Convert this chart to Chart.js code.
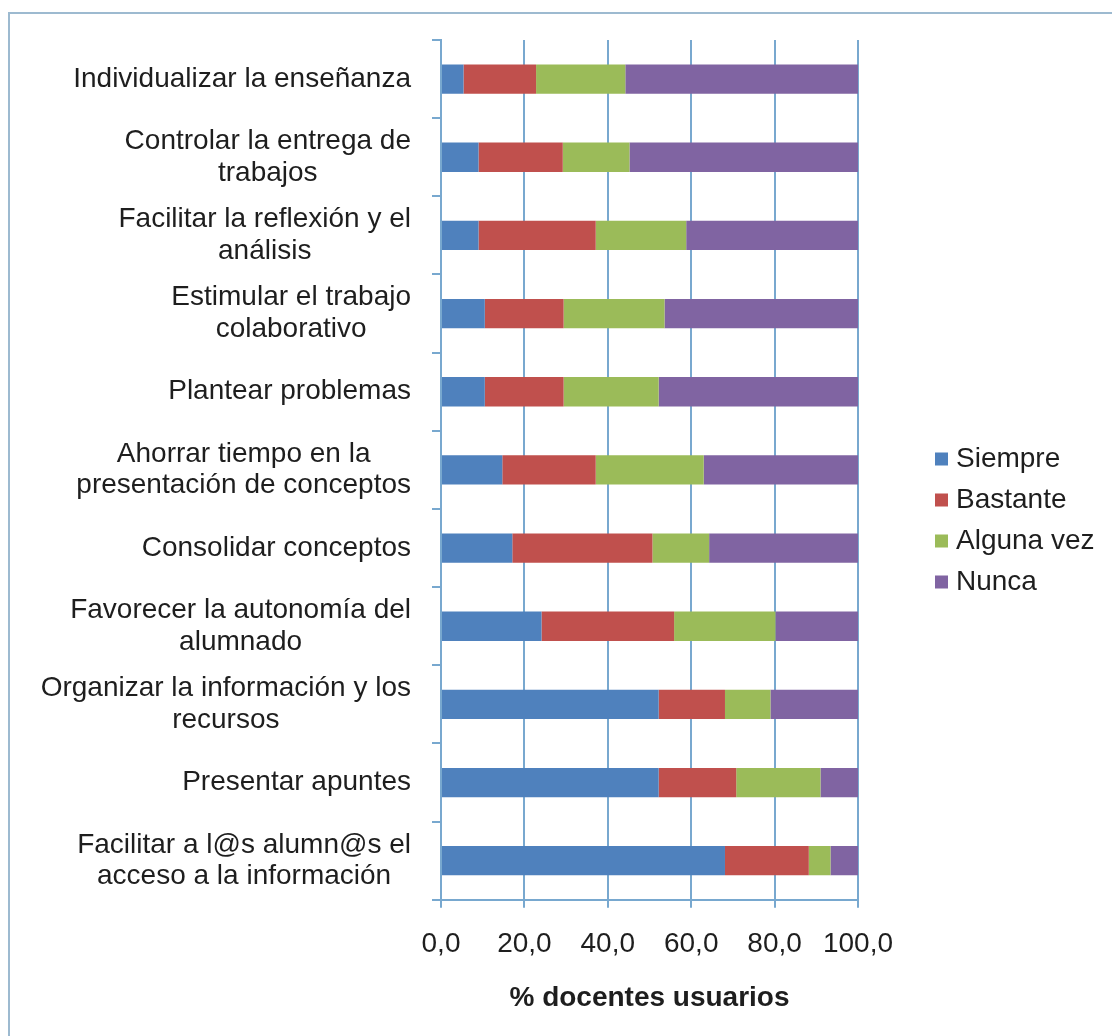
<!DOCTYPE html>
<html>
<head>
<meta charset="utf-8">
<script src="https://cdn.jsdelivr.net/npm/chart.js@4/dist/chart.umd.min.js"></script>
<style>
  html, body { margin: 0; padding: 0; background: #fff; }
  #frame { position: absolute; left: 8px; top: 12px; width: 1200px; height: 1100px; border: 2px solid #9dbad0; box-sizing: border-box; }
  #wrap { position: absolute; left: 0; top: 0; width: 1112px; height: 1036px; }
</style>
</head>
<body>
<div id="frame"></div>
<div id="wrap"><canvas id="c" width="1112" height="1036"></canvas></div>
<script>
const categories = [
  "Individualizar la enseñanza",
  ["Controlar la entrega de", "trabajos"],
  ["Facilitar la reflexión y el", "análisis"],
  ["Estimular el trabajo", "colaborativo"],
  "Plantear problemas",
  ["Ahorrar tiempo en la", "presentación de conceptos"],
  "Consolidar conceptos",
  ["Favorecer la autonomía del", "alumnado"],
  ["Organizar la información y los", "recursos"],
  "Presentar apuntes",
  ["Facilitar a l@s alumn@s el", "acceso a la información"]
];
const seriesNames = ["Siempre", "Bastante", "Alguna vez", "Nunca"];
const siempre  = [5.4, 9.0, 9.0, 10.5, 10.5, 14.7, 17.1, 24.1, 52.2, 52.2, 68.1];
const bastante = [17.4, 20.2, 28.1, 18.9, 18.9, 22.4, 33.6, 31.8, 15.9, 18.6, 20.1];
const algunaVez = [21.4, 16.0, 21.7, 24.2, 22.8, 25.9, 13.6, 24.3, 10.9, 20.2, 5.2];
const nunca    = [55.8, 54.8, 41.2, 46.4, 47.8, 37.0, 35.7, 19.8, 21.0, 9.0, 6.6];
const xTickLabels = ["0,0", "20,0", "40,0", "60,0", "80,0", "100,0"];
const axisTitle = "% docentes usuarios";

const colors = ["#4f81bd", "#c0504d", "#9bbb59", "#8064a2"];
const seriesValues = [siempre, bastante, algunaVez, nunca];
const FONT = "Arial, 'Liberation Sans', sans-serif";
const TEXT = "#1e1e1e";
const LINE = "#78a8cf";

// Category labels: block right-aligned, lines centred inside the block (as in the source)
const categoryLabelPlugin = {
  id: 'categoryLabels',
  afterDraw(chart) {
    const ctx = chart.ctx;
    const y = chart.scales.y;
    const right = y.right - 30;
    const lh = 31.7;
    ctx.save();
    ctx.font = "28px " + FONT;
    ctx.fillStyle = TEXT;
    ctx.textAlign = "center";
    ctx.textBaseline = "middle";
    chart.data.labels.forEach((lab, i) => {
      const lines = Array.isArray(lab) ? lab : [lab];
      const w = Math.max(...lines.map(t => ctx.measureText(t).width));
      const cx = right - w / 2;
      const yc = y.getPixelForValue(i);
      lines.forEach((t, k) => {
        ctx.fillText(t, cx, yc + (k - (lines.length - 1) / 2) * lh);
      });
    });
    ctx.restore();
  }
};

const legendPlugin = {
  id: 'customLegend',
  afterDraw(chart) {
    const ctx = chart.ctx;
    ctx.save();
    ctx.font = "28px " + FONT;
    ctx.textBaseline = "middle";
    ctx.textAlign = "left";
    chart.data.datasets.forEach((ds, i) => {
      const yc = 459 + i * 41;
      ctx.fillStyle = ds.backgroundColor;
      ctx.fillRect(935, yc - 6.5, 13, 13);
      ctx.fillStyle = TEXT;
      ctx.fillText(ds.label, 956, yc);
    });
    ctx.restore();
  }
};

new Chart(document.getElementById('c'), {
  type: 'bar',
  data: {
    labels: categories,
    datasets: seriesNames.map((name, i) => ({
      label: name,
      data: seriesValues[i],
      backgroundColor: colors[i],
      borderWidth: 0,
      barPercentage: 0.375,
      categoryPercentage: 1.0
    }))
  },
  options: {
    indexAxis: 'y',
    responsive: false,
    animation: false,
    layout: { padding: { left: 0, right: 254, top: 40, bottom: 21 } },
    plugins: {
      legend: { display: false },
      tooltip: { enabled: false }
    },
    scales: {
      x: {
        stacked: true,
        min: 0,
        max: 100,
        afterFit(scale) { scale.paddingLeft = 0; scale.paddingRight = 0; },
        ticks: {
          stepSize: 20,
          padding: 20,
          color: TEXT,
          font: { family: FONT, size: 28 },
          maxRotation: 0,
          callback: (v, i) => xTickLabels[i]
        },
        grid: { color: LINE, lineWidth: 2, tickLength: 8, drawTicks: true },
        border: { color: LINE, width: 2 },
        title: {
          display: true,
          text: axisTitle,
          color: TEXT,
          font: { family: FONT, size: 28, weight: 'bold' },
          padding: { top: 0, bottom: 0 }
        }
      },
      y: {
        stacked: true,
        afterFit(scale) { scale.width = 441; scale.paddingTop = 0; scale.paddingBottom = 0; },
        ticks: { display: false, autoSkip: false },
        grid: { drawOnChartArea: false, color: LINE, lineWidth: 2, tickLength: 9, offset: true },
        border: { color: LINE, width: 2 }
      }
    }
  },
  plugins: [categoryLabelPlugin, legendPlugin]
});
</script>
</body>
</html>
